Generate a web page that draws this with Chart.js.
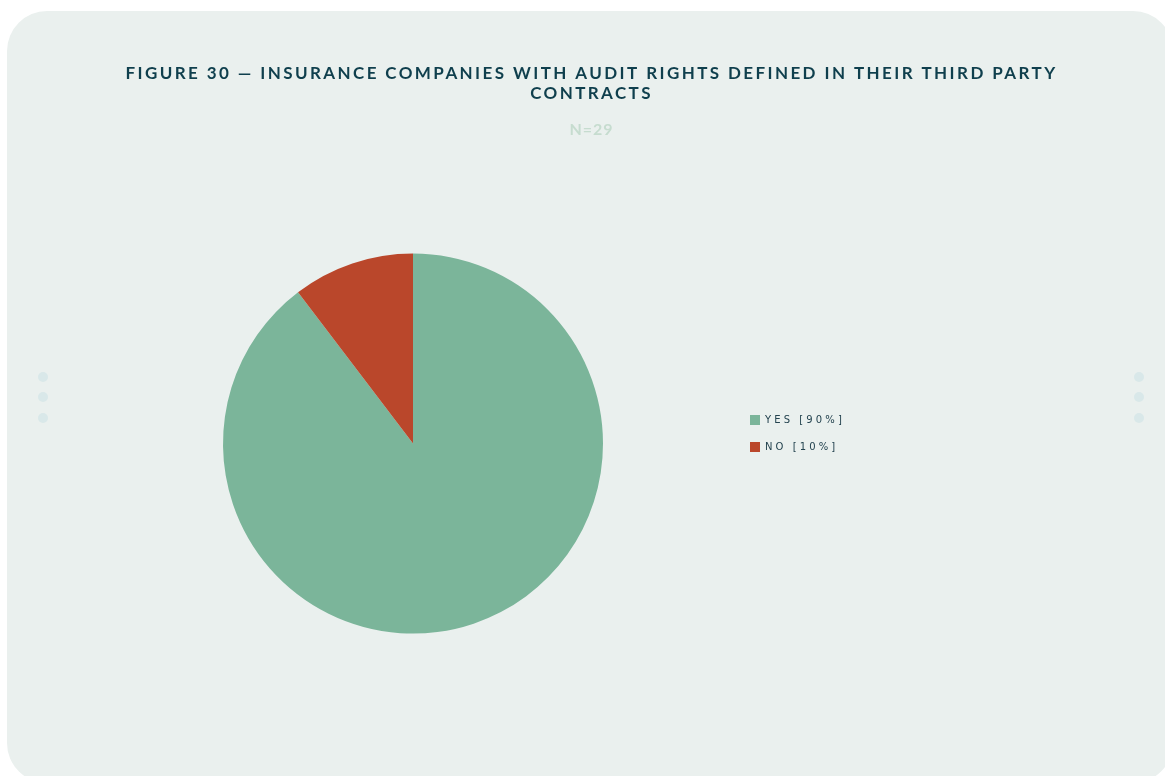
<!DOCTYPE html>
<html>
<head>
<meta charset="utf-8">
<script src="https://cdn.jsdelivr.net/npm/chart.js@4.4.0/dist/chart.umd.min.js"></script>
<style>
  html, body { margin: 0; padding: 0; background: #ffffff; }
  body { width: 1165px; height: 776px; overflow: hidden; position: relative; }
  .card {
    position: absolute; left: 7px; top: 11px; width: 1166px; height: 772px;
    background: #eaf0ee; border-radius: 40px;
  }
  .dot { position: absolute; width: 10px; height: 10px; border-radius: 50%; background: #d9e8e9; }
  #wrap { position: absolute; left: 7px; top: 11px; width: 1166px; height: 765px; }
</style>
</head>
<body>
<div class="card"></div>
<div class="dot" style="left:38px;top:372px"></div>
<div class="dot" style="left:38px;top:392px"></div>
<div class="dot" style="left:38px;top:413px"></div>
<div class="dot" style="left:1134px;top:372px"></div>
<div class="dot" style="left:1134px;top:392px"></div>
<div class="dot" style="left:1134px;top:413px"></div>
<div id="wrap"><canvas id="pieChart"></canvas></div>

<script>

// data (N=29)
var titleLines = ["FIGURE 30 \u2014 INSURANCE COMPANIES WITH AUDIT RIGHTS DEFINED IN THEIR THIRD PARTY", "CONTRACTS"];
var subtitleText = "N=29";
var answers = ["YES [90%]", "NO [10%]"];
var counts = [26, 3];
var sliceColors = ["#7bb59a", "#ba472b"];

var legendWidth = 357;

// canvas text has no css letter-spacing, so set it per box while it draws
var spacedText = {

  id: "spacedText",

  beforeLayout: function(chart) {

    var legend = chart.legend;
    if (legend && !legend._fixedWidth) {
      var fit = legend.fit;
      legend._fixedWidth = true;
      legend.fit = function() {
        fit.apply(this, arguments);
        this.width = legendWidth;
      };
    }
  },

  beforeDraw: function(chart) {

    var ctx = chart.ctx;
    ctx.letterSpacing = "1px";

    if (chart.titleBlock && !chart.titleBlock._spaced) {
      wrapDraw(chart.titleBlock, ctx, "2.4px", 0);
    }
    if (chart.legend && !chart.legend._spaced) {
      wrapDraw(chart.legend, ctx, "3.1px", -10);
    }
  }
};

function wrapDraw(box, ctx, spacing, shiftY) {

  var orig = box.draw;
  box._spaced = true;
  box.draw = function() {

    ctx.save();
    ctx.translate(0, shiftY);
    ctx.letterSpacing = spacing;
    orig.apply(this, arguments);
    ctx.restore();
    ctx.letterSpacing = "1px";
  };
}

function drawPie() {

  var ctx = document.getElementById("pieChart").getContext("2d");
  var chart = new Chart(ctx, {

    type: "pie",

    data: {
      labels: answers,
      datasets: [{
        data: counts,
        backgroundColor: sliceColors,
        borderWidth: 0,
        radius: 190
      }]
    },

    options: {
      responsive: true,
      maintainAspectRatio: false,
      animation: false,
      layout: {
        padding: { left: 86, right: 83, top: 0, bottom: 28 }
      },
      plugins: {
        title: {
          display: true,
          text: titleLines,
          color: "#0f3f4d",
          font: { family: "Lato", size: 17, weight: "bold", lineHeight: 1.1765 },
          padding: { top: 53, bottom: 9 }
        },
        subtitle: {
          display: true,
          text: subtitleText,
          color: "#c6dccf",
          font: { family: "Lato", size: 16, weight: "bold", lineHeight: 1.2 },
          padding: { top: 7, bottom: 0 }
        },
        legend: {
          position: "right",
          align: "center",
          fullSize: false,
          labels: {
            boxWidth: 10,
            boxHeight: 10,
            padding: 17,
            color: "#24434f",
            font: { family: "DejaVu Sans", size: 10 }
          }
        },
        tooltip: { enabled: false }
      }
    },

    plugins: [spacedText]
  });
}

drawPie();

</script>
</body>
</html>
